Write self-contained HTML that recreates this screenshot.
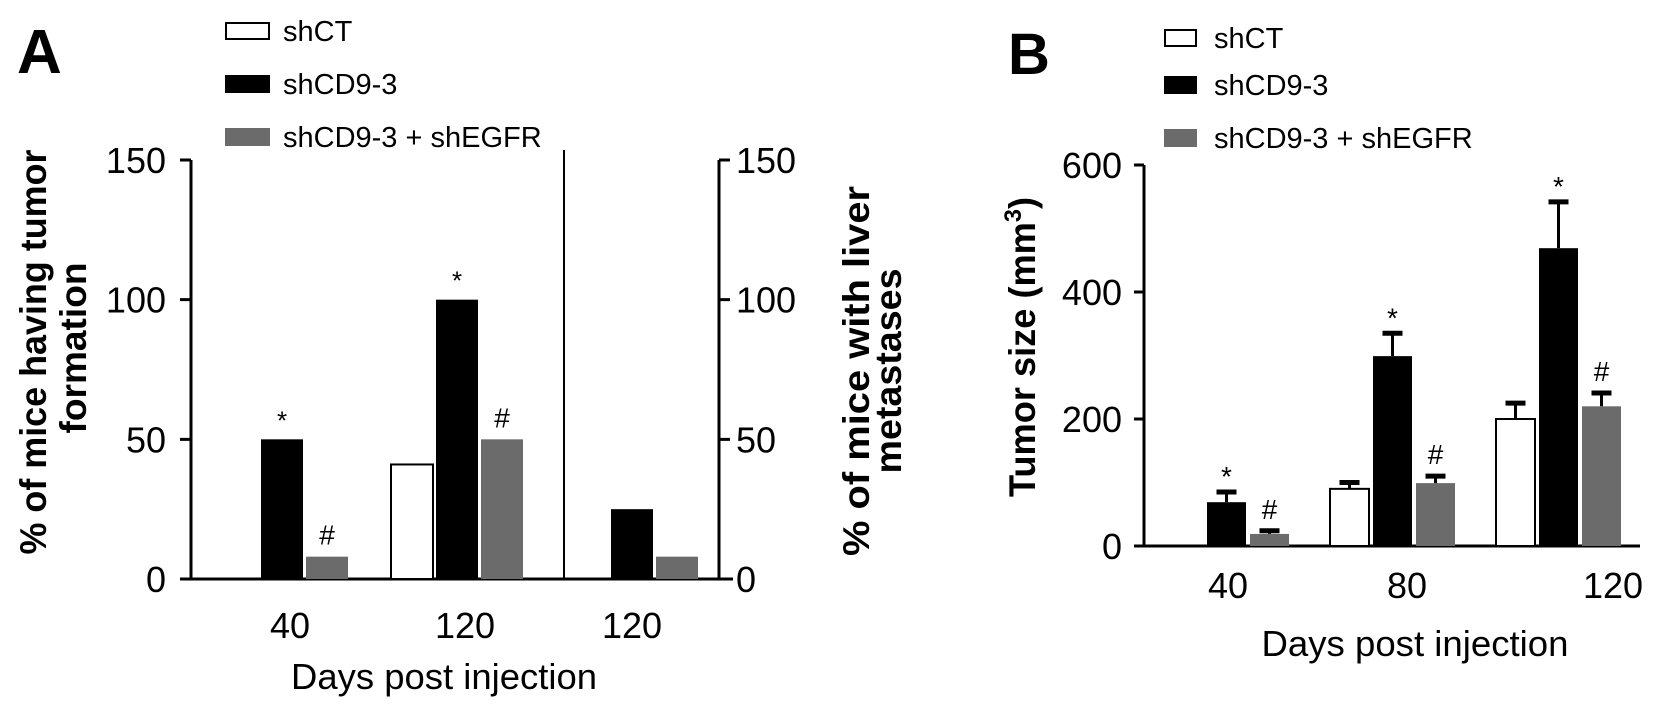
<!DOCTYPE html>
<html><head><meta charset="utf-8"><style>
html,body{margin:0;padding:0;background:#fff;}
svg{display:block;font-family:"Liberation Sans",Arial,sans-serif;}
</style></head><body>
<svg id="fig" width="1654" height="705" viewBox="0 0 1654 705">
<g id="gA"></g>
<g id="gB"></g>
</svg>
<script>
// Panel A data
const seriesNames = ["shCT", "shCD9-3", "shCD9-3 + shEGFR"];
const aCategories = ["40", "120", "120"];
const aShCT = [0, 41, 0];
const aShCD9 = [50, 100, 25];
const aShEGFR = [8, 50, 8];
const aMarksCD9 = ["*", "*", ""];
const aMarksEGFR = ["#", "#", ""];
const aTicks = [0, 50, 100, 150];
// Panel B data
const bCategories = ["40", "80", "120"];
const bShCT = [0, 90, 200];
const bShCD9 = [69, 299, 469];
const bShEGFR = [19, 99, 220];
const bErrCT = [0, 10, 25];
const bErrCD9 = [16, 36, 73];
const bErrEGFR = [5, 11, 21];
const bMarksCD9 = ["*", "*", "*"];
const bMarksEGFR = ["#", "#", "#"];
const bTicks = [0, 200, 400, 600];

const NS = "http://www.w3.org/2000/svg";
const fills = ["#ffffff", "#000000", "#6b6b6b"];
function mk(parent, tag, attrs, text) {
  const e = document.createElementNS(NS, tag);
  for (const k in attrs) e.setAttribute(k, attrs[k]);
  if (text !== undefined) e.textContent = text;
  parent.appendChild(e);
  return e;
}

// ---------- Panel A ----------
const gA = document.getElementById("gA");
const yA = v => 579 - v * (419 / 150);
const xA = (g, s) => 216 + g * 175 + s * 45;
const bwA = 42;

let t = mk(gA, "text", {x: 17, y: 73, "font-size": 62, "font-weight": "bold"}, "A");



// legend A
for (let i = 0; i < 3; i++) {
  const ly = [22, 75, 128][i];
  const r = mk(gA, "rect", {x: 226, y: ly + 1, width: 43, height: 16, fill: fills[i], stroke: i === 0 ? "#000" : fills[i], "stroke-width": 2});
  
  
  const lt = mk(gA, "text", {x: 283, y: ly + 19, "font-size": 29}, seriesNames[i]);
  
  
}

// axes A
let ax = mk(gA, "path", {d: "M180 579 H733 M191 579 V160", stroke: "#000", "stroke-width": 3, fill: "none"});


let rax = mk(gA, "path", {d: "M719 579 V160", stroke: "#000", "stroke-width": 3, fill: "none"});


let div = mk(gA, "line", {x1: 564, y1: 150, x2: 564, y2: 579, stroke: "#000", "stroke-width": 2});



aTicks.forEach(v => {
  const y = yA(v);
  const tk = mk(gA, "path", {d: `M180 ${y} H191 M719 ${y} H730`, stroke: "#000", "stroke-width": 3});
  
  
  const l = mk(gA, "text", {x: 166, y: y + 13, "font-size": 36, "text-anchor": "end"}, String(v));
  
  
  const r = mk(gA, "text", {x: 736, y: y + 13, "font-size": 36}, String(v));
  
  
});

const aSeries = [aShCT, aShCD9, aShEGFR];
aCategories.forEach((c, g) => {
  aSeries.forEach((arr, s) => {
    const v = arr[g];
    if (v > 0) {
      const b = mk(gA, "rect", {x: xA(g, s), y: yA(v), width: bwA, height: yA(0) - yA(v), fill: fills[s], stroke: s === 0 ? "#000" : fills[s], "stroke-width": s === 0 ? 2 : 0});
      
      
    }
  });
  if (aMarksCD9[g]) {
    const m = mk(gA, "text", {x: xA(g, 1) + bwA / 2, y: yA(aShCD9[g]) - 10, "font-size": 26, "text-anchor": "middle"}, aMarksCD9[g]);
    
    
  }
  if (aMarksEGFR[g]) {
    const m = mk(gA, "text", {x: xA(g, 2) + bwA / 2, y: yA(aShEGFR[g]) - 12, "font-size": 28, "text-anchor": "middle"}, aMarksEGFR[g]);
    
    
  }
  const lbl = mk(gA, "text", {x: xA(g, 1) + bwA / 2 + (g === 2 ? 0 : 8), y: 638, "font-size": 36, "text-anchor": "middle"}, c);
  
  
});

let xt = mk(gA, "text", {x: 444, y: 689, "font-size": 36, "text-anchor": "middle", textLength: 306, lengthAdjust: "spacingAndGlyphs"}, "Days post injection");



let yl = mk(gA, "text", {transform: "translate(46,352) rotate(-90)", "font-size": 37, "font-weight": "bold", "text-anchor": "middle", textLength: 405, lengthAdjust: "spacingAndGlyphs"}, "% of mice having tumor");


let yl2 = mk(gA, "text", {transform: "translate(86,348) rotate(-90)", "font-size": 37, "font-weight": "bold", "text-anchor": "middle", textLength: 171, lengthAdjust: "spacingAndGlyphs"}, "formation");


let yr = mk(gA, "text", {transform: "translate(869,371) rotate(-90)", "font-size": 37, "font-weight": "bold", "text-anchor": "middle", textLength: 370, lengthAdjust: "spacingAndGlyphs"}, "% of mice with liver");


let yr2 = mk(gA, "text", {transform: "translate(901,371) rotate(-90)", "font-size": 37, "font-weight": "bold", "text-anchor": "middle", textLength: 205, lengthAdjust: "spacingAndGlyphs"}, "metastases");



// ---------- Panel B ----------
const gB = document.getElementById("gB");
const yB = v => 546 - v * (381 / 600);
const xB = (g, s) => 1164 + g * 166 + s * 43;
const bwB = 39;

t = mk(gB, "text", {x: 1008, y: 74, "font-size": 58, "font-weight": "bold"}, "B");



for (let i = 0; i < 3; i++) {
  const ly = [29, 76, 129][i];
  const r = mk(gB, "rect", {x: 1165, y: ly + 1, width: 31, height: 16, fill: fills[i], stroke: i === 0 ? "#000" : fills[i], "stroke-width": 2});
  
  
  const lt = mk(gB, "text", {x: 1214, y: ly + 19, "font-size": 29}, seriesNames[i]);
  
  
}

ax = mk(gB, "path", {d: "M1135 546 H1640 M1144 546 V165", stroke: "#000", "stroke-width": 3, fill: "none"});


bTicks.forEach(v => {
  const y = yB(v);
  const tk = mk(gB, "path", {d: `M1134 ${y} H1144`, stroke: "#000", "stroke-width": 3});
  
  
  const l = mk(gB, "text", {x: 1122, y: y + 13, "font-size": 36, "text-anchor": "end"}, String(v));
  
  
});

const bSeries = [bShCT, bShCD9, bShEGFR];
const bErr = [bErrCT, bErrCD9, bErrEGFR];
const bLabelX = [1228, 1407, 1613];
bCategories.forEach((c, g) => {
  bSeries.forEach((arr, s) => {
    const v = arr[g];
    if (v > 0) {
      const x = xB(g, s);
      const b = mk(gB, "rect", {x: x, y: yB(v), width: bwB, height: yB(0) - yB(v), fill: fills[s], stroke: s === 0 ? "#000" : fills[s], "stroke-width": s === 0 ? 2 : 0});
      
      
      const e = bErr[s][g];
      const cx = x + bwB / 2, yt = yB(v + e);
      const eb = mk(gB, "path", {d: `M${cx} ${yB(v)} V${yt} M${cx - 10} ${yt} H${cx + 10}`, stroke: "#000", "stroke-width": 3, fill: "none"});
      
      
      eb.lastChild;
      const cap = mk(gB, "line", {x1: cx - 10, y1: yt, x2: cx + 10, y2: yt, stroke: "#000", "stroke-width": 5});
      
      
    }
  });
  if (bMarksCD9[g]) {
    const m = mk(gB, "text", {x: xB(g, 1) + bwB / 2, y: yB(bShCD9[g] + bErrCD9[g]) - 6, "font-size": 28, "text-anchor": "middle"}, bMarksCD9[g]);
    
    
  }
  if (bMarksEGFR[g]) {
    const m = mk(gB, "text", {x: xB(g, 2) + bwB / 2, y: yB(bShEGFR[g] + bErrEGFR[g]) - 12, "font-size": 28, "text-anchor": "middle"}, bMarksEGFR[g]);
    
    
  }
  const lbl = mk(gB, "text", {x: bLabelX[g], y: 598, "font-size": 36, "text-anchor": "middle"}, c);
  
  
});

xt = mk(gB, "text", {x: 1415, y: 656, "font-size": 36, "text-anchor": "middle", textLength: 307, lengthAdjust: "spacingAndGlyphs"}, "Days post injection");


const ybl = mk(gB, "text", {transform: "translate(1035,347) rotate(-90)", "font-size": 37, "font-weight": "bold", "text-anchor": "middle", textLength: 300, lengthAdjust: "spacingAndGlyphs"});


mk(ybl, "tspan", {}, "Tumor size (mm");
mk(ybl, "tspan", {"font-size": 24, dy: -14}, "3");
mk(ybl, "tspan", {dy: 14}, ")");
</script>
</body></html>
